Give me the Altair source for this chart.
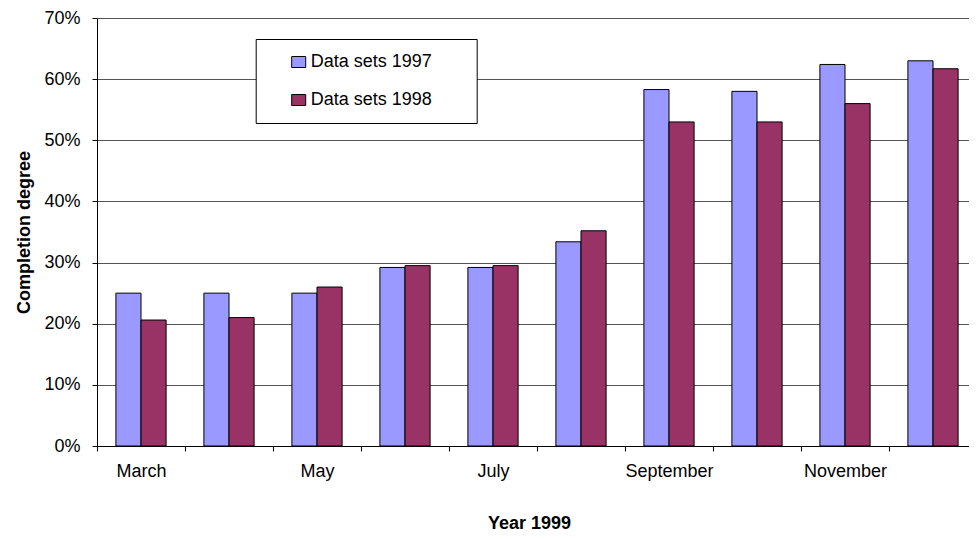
import altair as alt
import pandas as pd

months = ["March", "April", "May", "June", "July", "August",
          "September", "October", "November", "December"]
shown_labels = ["March", "May", "July", "September", "November"]
series = ["Data sets 1997", "Data sets 1998"]
values_1997 = [25.0, 25.0, 25.0, 29.2, 29.2, 33.4, 58.3, 58.0, 62.4, 63.0]
values_1998 = [20.6, 21.0, 26.0, 29.5, 29.5, 35.2, 53.0, 53.0, 56.0, 61.7]
colors = ["#9999FF", "#993366"]
y_ticks = [0, 10, 20, 30, 40, 50, 60, 70]

rows = []
for m, a, b in zip(months, values_1997, values_1998):
    rows.append({"month": m, "series": series[0], "value": a})
    rows.append({"month": m, "series": series[1], "value": b})
df = pd.DataFrame(rows)

FONT = "Liberation Sans"
label_test = "indexof(" + str(shown_labels).replace("'", '"') + ", datum.value) >= 0 ? datum.value : ''"

chart = alt.Chart(df).mark_bar(stroke="black", strokeWidth=1).encode(
    x=alt.X(
        "month:N", sort=months,
        scale=alt.Scale(paddingInner=0, paddingOuter=0),
        axis=alt.Axis(
            title="Year 1999", labelAngle=0, labelExpr=label_test,
            tickBand="extent", tickSize=5, tickColor="black",
            domainColor="black", labelColor="black", labelFont=FONT,
            labelFontSize=18, labelBaseline="alphabetic", labelPadding=25,
            labelAlign="center",
            titleFont=FONT, titleFontSize=18, titleFontWeight="bold",
            titleColor="black", titleX=432, titleY=82,
            titleBaseline="alphabetic", titleAlign="center",
        ),
    ),
    xOffset=alt.XOffset(
        "series:N", sort=series,
        scale=alt.Scale(paddingInner=0, paddingOuter=0.753),
    ),
    y=alt.Y(
        "value:Q",
        scale=alt.Scale(domain=[0, 70], nice=False),
        axis=alt.Axis(
            title="Completion degree", values=y_ticks,
            labelExpr="datum.value + '%'",
            grid=True, gridColor="#555555", gridWidth=1,
            tickSize=5, tickColor="black", domainColor="black",
            labelColor="black", labelFont=FONT, labelFontSize=18,
            labelPadding=12, labelBaseline="middle",
            titleFont=FONT, titleFontSize=18, titleFontWeight="bold",
            titleColor="black", titleX=-64, titleY=214,
            titleBaseline="bottom", titleAlign="center", titleAngle=-90,
        ),
    ),
    color=alt.Color(
        "series:N",
        scale=alt.Scale(domain=series, range=colors),
        legend=alt.Legend(
            title="\u00a0", titleOrient="right", titleFontSize=1,
            titlePadding=31,
            orient="none", legendX=158.7, legendY=21,
            fillColor="white", strokeColor="black", padding=14,
            rowPadding=20,
            symbolType="M-1,-0.786H1V0.786H-1Z", symbolSize=196,
            symbolStrokeColor="black", symbolStrokeWidth=1,
            symbolOffset=20, labelOffset=3,
            labelFont=FONT, labelFontSize=18, labelColor="black",
        ),
    ),
).properties(
    width=880, height=428,
    autosize=alt.AutoSizeParams(type="none"),
    padding={"left": 89, "top": 10, "right": -8, "bottom": 85},
).configure_view(stroke=None).configure(background="white")

chart.save("out.html", embed_options={"renderer": "svg", "actions": False})
